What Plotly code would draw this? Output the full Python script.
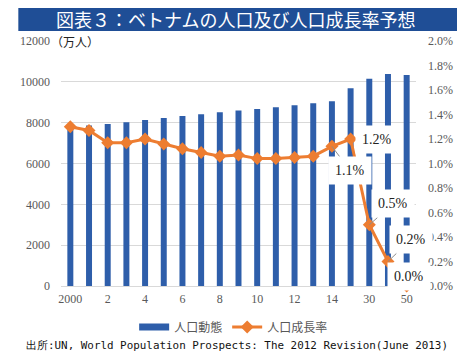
import plotly.graph_objects as go

categories = ["2000", "2001", "2002", "2003", "2004", "2005", "2006", "2007", "2008", "2009",
              "2010", "2011", "2012", "2013", "2014", "2020", "2030", "2040", "2050"]
population = [7760, 7860, 7930, 8016, 8130, 8227, 8325, 8407, 8505, 8590,
              8668, 8750, 8848, 8946, 9045, 9681, 10152, 10382, 10333]
growth = [0.0130, 0.0127, 0.0117, 0.0117, 0.0120, 0.0116, 0.0112, 0.0109, 0.0106, 0.0107,
          0.0104, 0.0104, 0.0105, 0.0106, 0.0114, 0.0120, 0.0050, 0.0020, 0.0000]
tick_vals = ["2000", "2002", "2004", "2006", "2008", "2010", "2012", "2014", "2030", "2050"]
tick_text = ["2000", "2", "4", "6", "8", "10", "12", "14", "30", "50"]
labelled = {"2014": "1.1%", "2020": "1.2%", "2030": "0.5%", "2040": "0.2%", "2050": "0.0%"}

# page body has an 8px margin; work in reference-pixel space and shift
OFF = 8
W, H = 465 - OFF, 357 - OFF
L, R, T, B = 52, 418, 41, 286  # plot area in reference pixels


def px(xp):
    return (xp - L) / (R - L)


def py(yp):
    return (B - yp) / (B - T)


BLUE = "#2E5EAA"
ORANGE = "#ED7D31"
GRAY = "#595959"

fig = go.Figure()
fig.add_trace(go.Bar(x=categories, y=population, name="人口動態", marker_color=BLUE,
                     marker_line_width=0, yaxis="y", showlegend=False, legendgroup="pop"))
# legend-only entry so the key is a wide bar like the original
fig.add_trace(go.Scatter(x=[None], y=[None], name="人口動態", mode="lines", legendgroup="pop",
                         line=dict(color=BLUE, width=7), showlegend=True))
fig.add_trace(go.Scatter(x=categories, y=growth, name="人口成長率", yaxis="y2", mode="lines+markers",
                         line=dict(color=ORANGE, width=3),
                         marker=dict(symbol="diamond", size=10, color=ORANGE),
                         cliponaxis=False))

label_pos = {"2014": (18, 24, True), "2020": (26, 0, False), "2030": (24, -21, True),
             "2040": (23, -22, True), "2050": (2, -10, False)}
annotations = []
for c, txt in labelled.items():
    ax, ay, arrow = label_pos[c]
    i = categories.index(c)
    v = growth[i]
    if arrow:
        annotations.append(dict(x=i, y=v, xref="x", yref="y2", text=txt, showarrow=True,
                                arrowhead=0, arrowwidth=1, arrowcolor="#8c8c8c", ax=ax, ay=ay,
                                standoff=0, bgcolor="white", borderpad=6,
                                font=dict(family="Liberation Serif", size=14, color="#222")))
    else:
        annotations.append(dict(x=i, y=v, xref="x", yref="y2", text=txt, showarrow=False,
                                xshift=ax, yshift=-ay, bgcolor="white", borderpad=6,
                                font=dict(family="Liberation Serif", size=14, color="#222")))

annotations.append(dict(x=px(232), y=py(19), xref="paper", yref="paper",
                        text="図表３：ベトナムの人口及び人口成長率予想", showarrow=False,
                        font=dict(family="Noto Sans CJK JP", size=18, color="white"),
                        xanchor="center", yanchor="middle"))
annotations.append(dict(x=px(40), y=py(41), xref="paper", yref="paper", text="（万人）",
                        showarrow=False, xanchor="left", yanchor="middle",
                        font=dict(family="Noto Sans CJK JP", size=12, color="#222")))
annotations.append(dict(x=px(14), y=py(345), xref="paper", yref="paper",
                        text="出所:UN, World Population Prospects: The 2012 Revision(June 2013)",
                        showarrow=False, xanchor="left", yanchor="middle",
                        font=dict(family="DejaVu Sans Mono", size=10.9, color="#111")))

fig.update_layout(
    width=W, height=H, autosize=False,
    margin=dict(l=L - OFF, r=465 - R, t=T - OFF, b=357 - B),
    paper_bgcolor="white", plot_bgcolor="white",
    bargap=0.68,
    showlegend=True,
    legend=dict(orientation="h", x=px(230), xanchor="center", y=py(327), yanchor="middle",
                font=dict(family="Noto Sans CJK JP", size=12, color=GRAY), itemwidth=30,
                traceorder="normal"),
    xaxis=dict(type="category", categoryorder="array", categoryarray=categories,
               range=[-0.5, len(categories) - 0.5],
               tickmode="array", tickvals=tick_vals, ticktext=tick_text,
               tickfont=dict(family="Liberation Serif", size=12, color=GRAY),
               showgrid=False, showline=False, ticks="", ticklabelstandoff=4),
    yaxis=dict(range=[0, 12000], dtick=2000, tickformat="d",
               tickfont=dict(family="Liberation Serif", size=12, color=GRAY),
               showgrid=True, gridcolor="#D9D9D9", gridwidth=1, zeroline=True,
               zerolinecolor="#D9D9D9", zerolinewidth=1, showline=False,
               ticks="", ticklabelstandoff=10),
    yaxis2=dict(range=[0, 0.02], dtick=0.002, tickformat=".1%", overlaying="y", side="right",
                tickfont=dict(family="Liberation Serif", size=12, color=GRAY),
                showgrid=False, zeroline=False, showline=False, ticks="", ticklabelstandoff=11),
    shapes=[dict(type="rect", xref="paper", yref="paper", x0=px(OFF), x1=px(465),
                 y0=py(31), y1=py(7), fillcolor="#1F4E96", line_width=0, layer="below")],
    annotations=annotations,
)

fig.write_html("out.html")
